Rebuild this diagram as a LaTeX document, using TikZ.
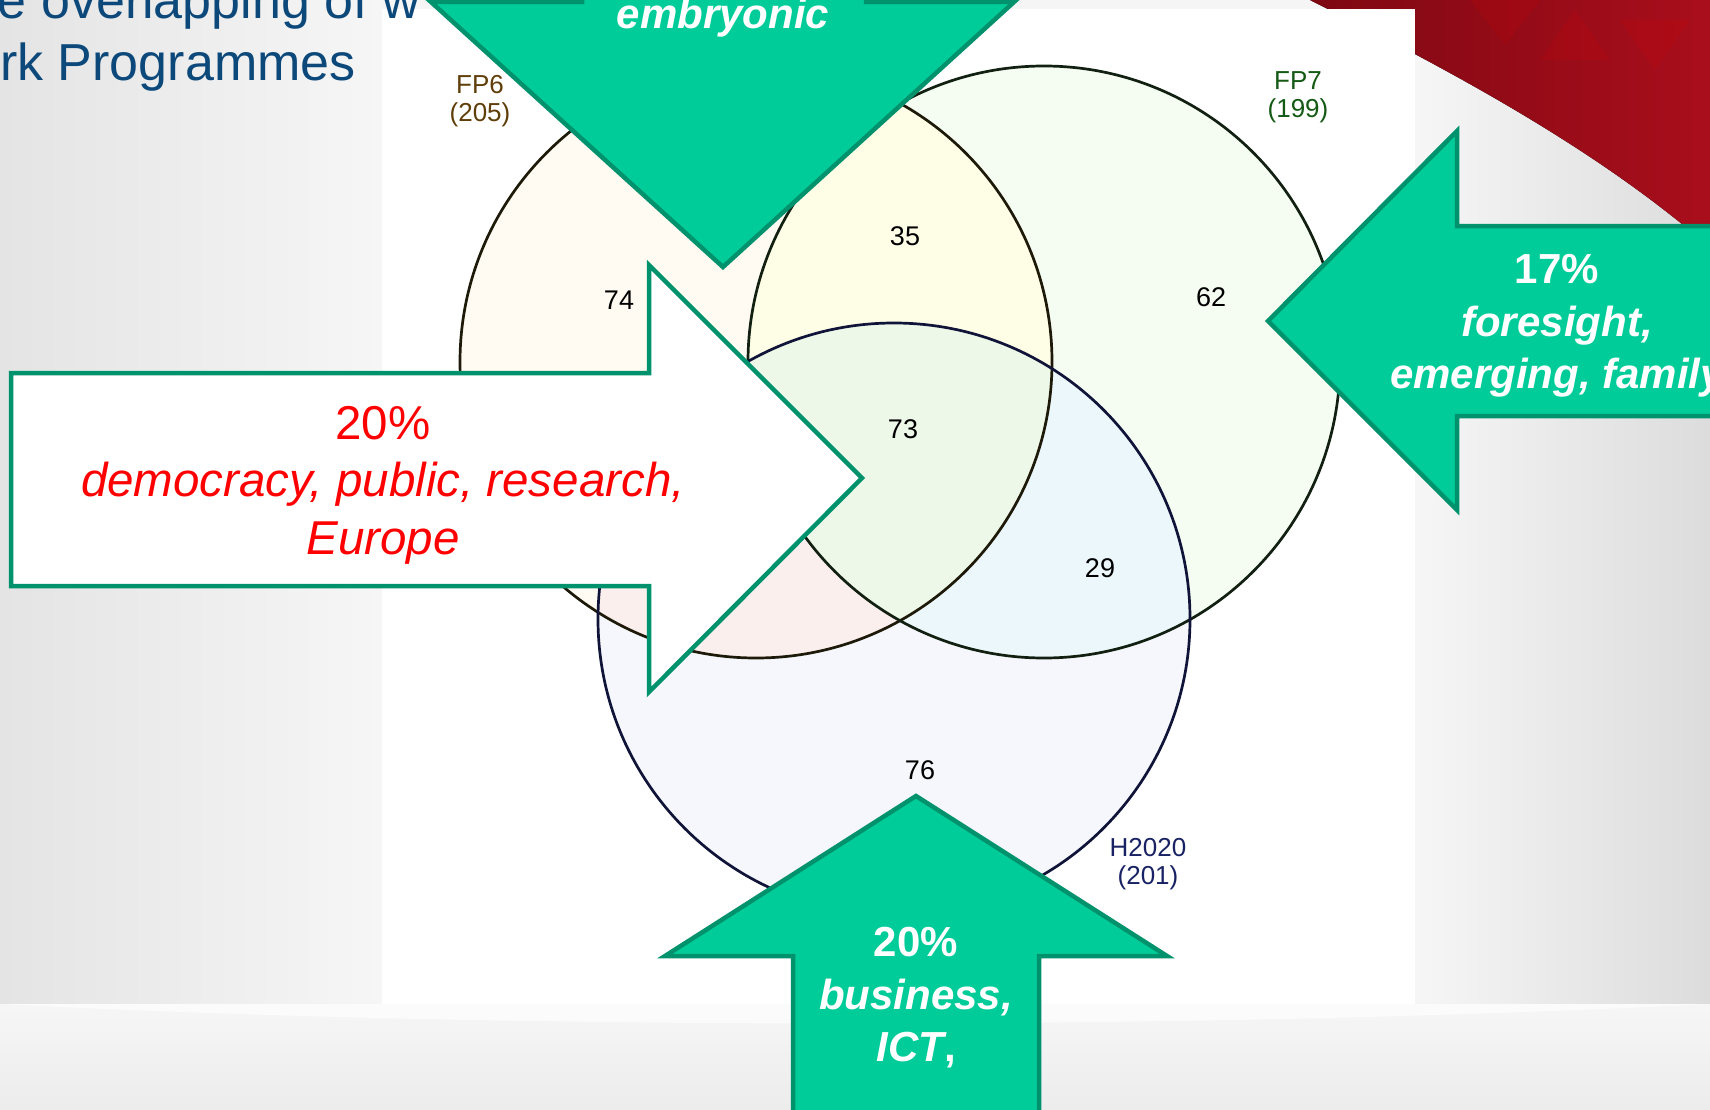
\documentclass[tikz,border=0pt]{standalone}
\usepackage{fontspec}
\setmainfont{Liberation Sans}
\definecolor{arrowgreen}{RGB}{0,204,153}
\definecolor{arrowedge}{RGB}{0,146,108}
\definecolor{titleblue}{RGB}{12,72,122}
\definecolor{fpsix}{RGB}{255,251,242}
\definecolor{fpseven}{RGB}{245,252,241}
\definecolor{htwenty}{RGB}{245,247,252}
\definecolor{sixseven}{RGB}{254,253,230}
\definecolor{sixh}{RGB}{251,239,238}
\definecolor{sevenh}{RGB}{235,247,250}
\definecolor{allthree}{RGB}{238,248,232}
\definecolor{fpsixtext}{RGB}{96,62,10}
\definecolor{fpseventext}{RGB}{20,90,20}
\definecolor{htwentytext}{RGB}{25,35,100}
\definecolor{fpsixline}{RGB}{30,26,10}
\definecolor{fpsevenline}{RGB}{18,32,18}
\definecolor{htwentyline}{RGB}{16,20,56}
\definecolor{swredA}{RGB}{125,8,18}
\definecolor{swredB}{RGB}{170,14,28}
\definecolor{bgA}{RGB}{228,228,228}
\definecolor{bgB}{RGB}{246,246,246}
\definecolor{bgC}{RGB}{220,220,220}
\definecolor{bgD}{RGB}{236,236,236}
\begin{document}
\begin{tikzpicture}[x=1pt,y=-1pt,
  bigarrow/.style={fill=arrowgreen, draw=arrowedge, line width=4.5pt, line join=miter},
  whitearrow/.style={fill=white, draw=arrowedge, line width=4.5pt, line join=miter},
  greentext/.style={text=white, font=\fontsize{42}{52.5}\selectfont\bfseries, align=center, inner sep=0pt},
  redtext/.style={text=red, font=\fontsize{47.5}{57.5}\selectfont, align=center, inner sep=0pt},
  num/.style={text=black, font=\fontsize{27}{30}\selectfont, inner sep=0pt},
  setlabel/.style={font=\fontsize{26}{28}\selectfont, align=center, inner sep=0pt},
  titletext/.style={text=titleblue, font=\fontsize{52}{60}\selectfont, inner sep=0pt, anchor=base west},
  vennline/.style={line width=2.7pt}
]
\useasboundingbox (0,0) rectangle (1710,1110);
\begin{scope}
\clip (0,0) rectangle (1710,1110);
% background
\fill[white!96!black] (0,0) rectangle (1710,1110);
\fill[left color=bgA, right color=bgB] (0,0) rectangle (382,1110);
\fill[left color=bgB, right color=bgC] (1415,0) rectangle (1710,1110);
\shade[top color=bgB, bottom color=bgD] (0,1004) rectangle (1710,1110);
\fill[white, opacity=0.6] (0,1004) .. controls (500,1030) and (1200,1030) .. (1710,1004) -- cycle;
% red swoosh
\fill[left color=swredA, right color=swredB] (1300,-5) .. controls (1450,70) and (1600,150) .. (1715,252) -- (1715,-5) -- cycle;
\fill[red!85!black, opacity=0.15] (1470,0) -- (1540,0) -- (1505,45) -- cycle;
\fill[red!85!black, opacity=0.15] (1540,60) -- (1575,10) -- (1610,60) -- cycle;
\fill[red!85!black, opacity=0.15] (1620,20) -- (1690,20) -- (1655,70) -- cycle;
% white panel
\fill[white] (382,9) rectangle (1415,1004);
% Venn circles
\coordinate (c6) at (756,362);
\coordinate (c7) at (1044,362);
\coordinate (ch) at (894,619);
\fill[fpsix] (c6) circle[radius=296pt];
\fill[fpseven] (c7) circle[radius=296pt];
\fill[htwenty] (ch) circle[radius=296pt];
\begin{scope}
  \clip (c6) circle[radius=296pt];
  \fill[sixseven] (c7) circle[radius=296pt];
  \fill[sixh] (ch) circle[radius=296pt];
\end{scope}
\begin{scope}
  \clip (c7) circle[radius=296pt];
  \fill[sevenh] (ch) circle[radius=296pt];
\end{scope}
\begin{scope}
  \clip (c6) circle[radius=296pt];
  \clip (c7) circle[radius=296pt];
  \fill[allthree] (ch) circle[radius=296pt];
\end{scope}
\draw[vennline, fpsixline] (c6) circle[radius=296pt];
\draw[vennline, fpsevenline] (c7) circle[radius=296pt];
\draw[vennline, htwentyline] (ch) circle[radius=296pt];
% set labels
\node[setlabel, text=fpsixtext] (lsix) at (480,101) {FP6\\(205)};
\node[setlabel, text=fpseventext] (lseven) at (1298,97) {FP7\\(199)};
\node[setlabel, text=htwentytext] (lh) at (1148,864) {H2020\\(201)};
% region counts
\node[num] (n74) at (619,300) {74};
\node[num] (n35) at (905,236) {35};
\node[num] (n62) at (1211,297) {62};
\node[num] (n73) at (903,429) {73};
\node[num] (n29) at (1100,568) {29};
\node[num] (n76) at (920,770) {76};
% title
\node[titletext] (t1) at (-63,19) {The overlapping of w};
\node[titletext] (t2) at (-77,81) {Work Programmes};
% arrows
\draw[bigarrow] (582,-60) -- (582,2) -- (431,2) -- (723,267) -- (1014,2) -- (866,2) -- (866,-60) -- cycle;
\draw[bigarrow] (1760,226) -- (1457,226) -- (1457,131) -- (1268,321) -- (1457,510) -- (1457,416) -- (1760,416) -- cycle;
\draw[bigarrow] (793,1160) -- (793,956) -- (665,956) -- (916,796) -- (1167,956) -- (1039,956) -- (1039,1160) -- cycle;
\draw[whitearrow] (11,373) -- (649,373) -- (649,265) -- (862,478) -- (649,692) -- (649,586) -- (11,586) -- cycle;
% arrow texts
\node[greentext] (atop) at (723,18) {\itshape embryonic};
\node[greentext] (aright) at (1557,326) {17\%\\{\itshape foresight,}\\{\itshape emerging, family}};
\node[greentext] (abottom) at (916,998) {20\%\\{\itshape business,}\\{\itshape ICT},};
\node[redtext] (aleft) at (383,485) {20\%\\{\itshape democracy, public, research,}\\{\itshape Europe}};
\end{scope}
\end{tikzpicture}
\end{document}
